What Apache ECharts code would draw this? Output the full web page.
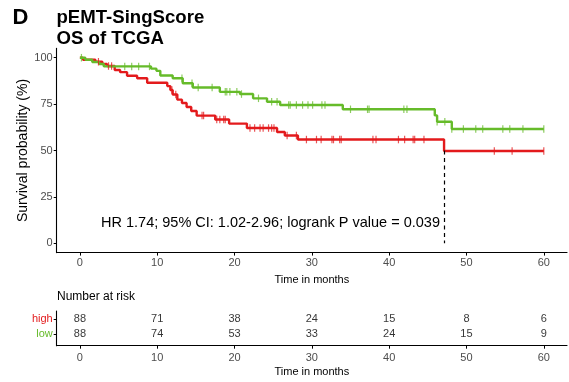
<!DOCTYPE html>
<html>
<head>
<meta charset="utf-8">
<script src="https://cdn.jsdelivr.net/npm/echarts@6/dist/echarts.min.js"></script>
<style>
html,body{margin:0;padding:0;background:#fff;}
#chart{width:569px;height:382px;}
</style>
</head>
<body>
<div id="chart"></div>
<script>
// ---- Data ----
const panelLetter = 'D';
const titleLines = ['pEMT-SingScore', 'OS of TCGA'];
const annotation = 'HR 1.74; 95% CI: 1.02-2.96; logrank P value = 0.039';
const groups = ['high', 'low'];
const timeTicks = [0, 10, 20, 30, 40, 50, 60];
const survTicks = [0, 25, 50, 75, 100];

// Kaplan-Meier steps [time (months), survival (%)]
const highSteps = [[0,100],[0.4,98.9],[2.0,97.8],[2.9,96.6],[3.5,95.5],[4.5,93.4],[5.2,92.2],[6.1,90.3],[7.4,88.9],[8.7,86.5],[11.3,84.7],[11.7,82.6],[12.0,80.2],[12.6,77.4],[13.2,75.6],[13.8,73.4],[14.4,71.3],[15.1,68.8],[17.5,66.7],[19.3,64.5],[21.6,62.1],[25.5,60.0],[26.5,58.1],[28.2,55.9],[47.1,49.7],[60,49.7]];
const lowSteps = [[0,100],[0.7,98.9],[1.6,97.7],[2.5,96.6],[3.1,95.3],[9.2,94.1],[9.9,92.9],[10.4,90.4],[12.0,88.9],[13.3,86.2],[14.6,83.9],[18.1,81.6],[20.7,80.4],[22.4,78.1],[24.2,76.3],[25.9,74.5],[34.0,72.2],[45.9,68.9],[46.2,65.5],[48.1,61.6],[60,61.6]];

// censoring times (months)
const highCensor = [2.4,3.7,4.1,11.9,12.4,15.8,16.0,17.7,18.1,18.6,18.8,22.0,22.6,23.3,23.7,24.4,24.8,25.1,26.8,28.0,29.3,30.6,31.2,32.6,32.8,33.6,33.8,37.9,38.3,41.2,42.0,43.1,43.3,44.5,53.6,55.9,60];
const lowCensor = [0.2,5.8,6.7,7.6,9.0,13.2,14.5,15.3,17.1,18.8,19.0,19.4,20.3,20.9,23.1,24.8,25.5,27.0,27.2,28.0,28.8,29.5,30.1,31.3,31.7,35.0,37.2,37.4,41.9,42.3,46.2,47.2,48.1,49.6,51.2,52.1,54.7,55.6,57.3,60];

const medianHigh = 47.1;

// number at risk
const riskHigh = [88, 71, 38, 24, 15, 8, 6];
const riskLow = [88, 74, 53, 33, 24, 15, 9];

// ---- Styles ----
const RED = '#E31A1C';
const GREEN = '#66BB2A';
const FONT = '"Liberation Sans", Arial, Helvetica, sans-serif';
const GREY = '#4D4D4D';

function survAt(steps, t) {
  let s = steps[0][1];
  for (const [ti, si] of steps) { if (ti <= t) s = si; else break; }
  return s;
}

const chart = echarts.init(document.getElementById('chart'), null, {renderer: 'canvas'});

const axisLineStyle = {show: true, onZero: false, lineStyle: {color: '#000', width: 1.1}};
const axisTickStyle = (vals) => ({show: true, length: 3, customValues: vals, lineStyle: {color: '#000', width: 1}});
const axisLabelStyle = (vals, extra) => Object.assign({show: true, customValues: vals, color: GREY, fontSize: 11, fontFamily: FONT, margin: 4}, extra || {});

const option = {
  animation: false,
  backgroundColor: '#fff',
  grid: [
    {left: 56.7, top: 48.4, width: 510.3, height: 204.2},
    {left: 56.7, top: 311, width: 510.3, height: 34.7}
  ],
  xAxis: [
    {gridIndex: 0, type: 'value', min: -3, max: 63,
     axisLine: axisLineStyle, axisTick: axisTickStyle(timeTicks), axisLabel: axisLabelStyle(timeTicks, {margin: 5}),
     splitLine: {show: false},
     name: 'Time in months', nameLocation: 'middle', nameGap: 22,
     nameTextStyle: {color: '#000', fontSize: 11, fontFamily: FONT}},
    {gridIndex: 1, type: 'value', min: -3, max: 63,
     axisLine: axisLineStyle, axisTick: axisTickStyle(timeTicks), axisLabel: axisLabelStyle(timeTicks, {margin: 6.5}),
     splitLine: {show: false},
     name: 'Time in months', nameLocation: 'middle', nameGap: 20.5,
     nameTextStyle: {color: '#000', fontSize: 11, fontFamily: FONT}}
  ],
  yAxis: [
    {gridIndex: 0, type: 'value', min: -5, max: 105,
     axisLine: axisLineStyle, axisTick: axisTickStyle(survTicks), axisLabel: axisLabelStyle(survTicks),
     splitLine: {show: false},
     name: 'Survival probability (%)', nameLocation: 'middle', nameGap: 27, nameMoveOverlap: false,
     nameTextStyle: {color: '#000', fontSize: 14, fontFamily: FONT}},
    {gridIndex: 1, type: 'value', min: -0.75, max: 1.52,
     axisLine: axisLineStyle, axisTick: axisTickStyle([0, 1]),
     axisLabel: axisLabelStyle([0, 1], {
       formatter: (v) => v === 1 ? '{h|' + groups[0] + '}' : '{l|' + groups[1] + '}',
       rich: {h: {color: RED, fontSize: 11, fontFamily: FONT}, l: {color: GREEN, fontSize: 11, fontFamily: FONT}}
     }),
     splitLine: {show: false}}
  ],
  series: [
    {name: 'high', type: 'line', step: 'end', xAxisIndex: 0, yAxisIndex: 0,
     data: highSteps, showSymbol: false, lineStyle: {color: RED, width: 2.4}, itemStyle: {color: RED}, z: 3,
     markLine: {silent: true, symbol: 'none', label: {show: false},
       lineStyle: {color: '#000', type: [4, 3.5], width: 1.2},
       data: [[{coord: [medianHigh, 50]}, {coord: [medianHigh, 0]}]]}},
    {name: 'low', type: 'line', step: 'end', xAxisIndex: 0, yAxisIndex: 0,
     data: lowSteps, showSymbol: false, lineStyle: {color: GREEN, width: 2.4}, itemStyle: {color: GREEN}, z: 3},
    {type: 'scatter', xAxisIndex: 0, yAxisIndex: 0, symbol: 'rect', symbolSize: [1.2, 7.5],
     data: highCensor.map(t => [t, survAt(highSteps, t)]), itemStyle: {color: RED, opacity: 0.75}, z: 4},
    {type: 'scatter', xAxisIndex: 0, yAxisIndex: 0, symbol: 'rect', symbolSize: [1.2, 7.5],
     data: lowCensor.map(t => [t, survAt(lowSteps, t)]), itemStyle: {color: GREEN, opacity: 0.75}, z: 4},
    {type: 'scatter', xAxisIndex: 1, yAxisIndex: 1, symbolSize: 0,
     data: timeTicks.map((t, i) => [t, 1, riskHigh[i]]),
     label: {show: true, position: 'inside', formatter: p => p.value[2], color: '#000', fontSize: 11, fontFamily: FONT}},
    {type: 'scatter', xAxisIndex: 1, yAxisIndex: 1, symbolSize: 0,
     data: timeTicks.map((t, i) => [t, 0, riskLow[i]]),
     label: {show: true, position: 'inside', formatter: p => p.value[2], color: '#000', fontSize: 11, fontFamily: FONT}}
  ],
  graphic: [
    {type: 'text', left: 12.5, top: 7, style: {text: panelLetter, fontSize: 22, fontWeight: 'bold', fontFamily: FONT, fill: '#000'}},
    {type: 'text', left: 56.5, top: 7.5, style: {text: titleLines.join('\n'), fontSize: 18.6, lineHeight: 21, fontWeight: 'bold', fontFamily: FONT, fill: '#000'}},
    {type: 'text', left: 101, top: 215.5, style: {text: annotation, fontSize: 14.5, fontFamily: FONT, fill: '#000'}},
    {type: 'text', left: 57, top: 291, style: {text: 'Number at risk', fontSize: 12, fontFamily: FONT, fill: '#000'}}
  ]
};
chart.setOption(option);
</script>
</body>
</html>
